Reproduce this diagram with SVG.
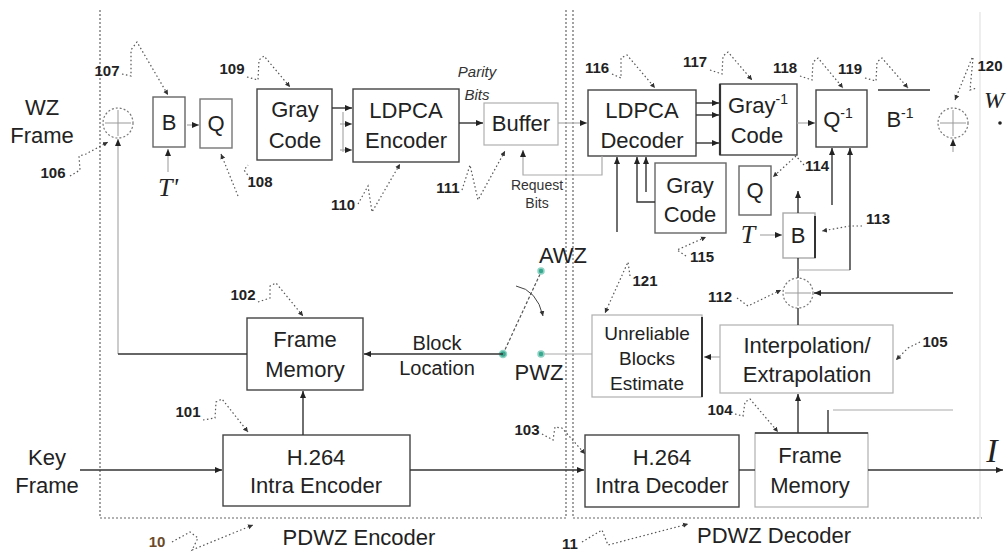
<svg xmlns="http://www.w3.org/2000/svg" width="1008" height="554" viewBox="0 0 1008 554">
<defs>
<marker id="ar" markerWidth="8" markerHeight="8" refX="7" refY="4" orient="auto" markerUnits="userSpaceOnUse"><path d="M0,1 L7,4 L0,7 z" fill="#222"/></marker>
<marker id="la" markerWidth="6" markerHeight="6" refX="5" refY="3" orient="auto" markerUnits="userSpaceOnUse"><path d="M0,0.5 L5,3 L0,5.5 z" fill="#333"/></marker>
<style>
.t{font-family:"Liberation Sans",Arial,sans-serif;font-size:22px;fill:#222;text-anchor:middle}
.s{font-size:19px}
.n{font-family:"Liberation Sans",Arial,sans-serif;font-size:15px;font-weight:bold;fill:#222;text-anchor:middle}
.it{font-family:"Liberation Sans",Arial,sans-serif;font-style:italic;font-size:15px;fill:#333;text-anchor:middle}
.sm{font-family:"Liberation Sans",Arial,sans-serif;font-size:14px;fill:#333;text-anchor:middle}
.v{font-family:"Liberation Serif","Times New Roman",serif;font-style:italic;fill:#222;text-anchor:middle}
.bx{fill:none;stroke:#444;stroke-width:1.4}
.bxl{fill:none;stroke:#b0b0b0;stroke-width:1.2}
.ln{fill:none;stroke:#333;stroke-width:1.4}
.lf{fill:none;stroke:#aaa;stroke-width:1.2}
.ld{fill:none;stroke:#555;stroke-width:1.2;stroke-dasharray:1.5,2.5}
.rg{fill:none;stroke:#666;stroke-width:1.2;stroke-dasharray:2,2}
.ad{fill:none;stroke:#777;stroke-width:1.2;stroke-dasharray:2,2}
.pl{stroke:#999;stroke-width:1}
.sw{fill:#3aa88e;stroke:#8fd3c4;stroke-width:1.5}
</style>
</defs>
<rect width="1008" height="554" fill="#fff"/>

<g id="regions">
<path class="rg" d="M100,10 L100,518 L566,518 L566,10"/>
<path class="rg" d="M573,10 L573,518 L982,518"/>
<path d="M980,12 L980,518" stroke="#e2e2e2" stroke-width="1.2" fill="none"/>
<text class="t" x="359" y="545">PDWZ Encoder</text>
<text class="t" x="774" y="543">PDWZ Decoder</text>
<text class="n" x="157" y="547" style="fill:#6a4a2a">10</text>
<text class="n" x="570" y="549">11</text>
</g>

<g id="labels">
<text class="t" x="42" y="115">WZ</text>
<text class="t" x="42" y="143">Frame</text>
<text class="t" x="47" y="465">Key</text>
<text class="t" x="47" y="493">Frame</text>
<text class="v" x="168" y="196" font-size="26">T'</text>
<text class="v" x="748" y="243" font-size="26">T</text>
<text class="v" x="994" y="108" font-size="24">W</text>
<text class="v" x="992" y="462" font-size="34">I</text>
<text class="it" x="477" y="77">Parity</text>
<text class="it" x="477" y="100">Bits</text>
<text class="sm" x="537" y="190">Request</text>
<text class="sm" x="537" y="208">Bits</text>
<text class="t" x="437" y="350" style="font-size:20px">Block</text>
<text class="t" x="437" y="375" style="font-size:20px">Location</text>
<text class="t" x="563" y="263">AWZ</text>
<text class="t" x="539" y="380">PWZ</text>
</g>

<g id="n106"><circle class="ad" cx="118" cy="123" r="15"/><path class="pl" d="M105,123 H131 M118,110 V136"/></g>
<g id="n107"><rect class="bx" x="153" y="97" width="32" height="50" style="stroke:#666"/><text class="t" x="169" y="130">B</text></g>
<g id="n108"><rect class="bx" x="200" y="99" width="32" height="49" style="stroke:#777"/><text class="t" x="216" y="131">Q</text></g>
<g id="n109"><rect class="bx" x="257" y="89" width="75" height="71"/><text class="t" x="295" y="117">Gray</text><text class="t" x="295" y="148">Code</text></g>
<g id="n110"><rect class="bx" x="353" y="89" width="106" height="73"/><text class="t" x="406" y="118">LDPCA</text><text class="t" x="406" y="148">Encoder</text></g>
<g id="n111"><rect class="bxl" x="484" y="103" width="74" height="42"/><text class="t" x="521" y="131">Buffer</text></g>
<g id="n116"><rect class="bx" x="588" y="90" width="108" height="66"/><text class="t" x="642" y="118">LDPCA</text><text class="t" x="642" y="148">Decoder</text></g>
<g id="n117"><rect class="bx" x="720" y="84" width="77" height="71"/><path d="M720,84 V155" stroke="#333" stroke-width="2.2"/><text class="t" x="758" y="113">Gray<tspan font-size="14" dy="-9">-1</tspan></text><text class="t" x="757" y="143">Code</text></g>
<g id="n118"><rect class="bx" x="816" y="90" width="51" height="57"/><text class="t" x="838" y="127">Q<tspan font-size="14" dy="-9">-1</tspan></text></g>
<g id="n119"><path class="ln" d="M878,90 H930"/><text class="t" x="900" y="127">B<tspan font-size="14" dy="-9">-1</tspan></text></g>
<g id="n120"><circle class="ad" cx="953" cy="123" r="15"/><path class="pl" d="M940,123 H966 M953,110 V136"/></g>
<g id="n114"><rect class="bx" x="739" y="166" width="32" height="49" style="stroke:#666"/><text class="t" x="755" y="198">Q</text></g>
<g id="n115"><rect class="bx" x="655" y="163" width="71" height="70" style="stroke:#666"/><text class="t" x="690" y="193">Gray</text><text class="t" x="690" y="222">Code</text></g>
<g id="n113"><rect class="bx" x="783" y="213" width="32" height="45" style="stroke:#aaa"/><path d="M815,216 V258" stroke="#333" stroke-width="2"/><text class="t" x="798" y="243">B</text></g>
<g id="n112"><circle class="ad" cx="798" cy="293" r="15"/><path class="pl" d="M785,293 H811 M798,280 V306"/></g>
<g id="n105"><rect class="bxl" x="720" y="325" width="173" height="68"/><text class="t" x="807" y="353">Interpolation/</text><text class="t" x="807" y="382">Extrapolation</text></g>
<g id="n121"><rect class="bxl" x="592" y="315" width="110" height="82"/><path d="M702,317 V397" stroke="#333" stroke-width="2"/><text class="t s" x="647" y="340">Unreliable</text><text class="t s" x="647" y="365">Blocks</text><text class="t s" x="647" y="390">Estimate</text></g>
<g id="n102"><rect class="bx" x="247" y="318" width="116" height="72"/><text class="t" x="305" y="347">Frame</text><text class="t" x="305" y="377">Memory</text></g>
<g id="n101"><rect class="bx" x="223" y="435" width="187" height="71"/><text class="t" x="316" y="465">H.264</text><text class="t" x="316" y="493">Intra Encoder</text></g>
<g id="n103"><rect class="bx" x="585" y="435" width="154" height="72"/><text class="t" x="662" y="465">H.264</text><text class="t" x="662" y="493">Intra Decoder</text></g>
<g id="n104"><rect class="bxl" x="755" y="433" width="113" height="74"/><path class="ln" d="M755,433 H868"/><text class="t" x="810" y="463">Frame</text><text class="t" x="810" y="493">Memory</text></g>
<g id="switch">
<path d="M503,354 L541,272" stroke="#555" stroke-width="1.2" stroke-dasharray="3,2" fill="none"/>
<path d="M516,286 Q537,290 543,316" fill="none" stroke="#444" stroke-width="1" marker-end="url(#la)"/>
<circle class="sw" cx="503" cy="354" r="3.5"/>
<circle class="sw" cx="541" cy="354" r="3"/>
<circle class="sw" cx="541" cy="271" r="3"/>
</g>

<g id="connectors">
<path class="ln" d="M332,108 H352" marker-end="url(#ar)"/>
<path class="lf" d="M343,112 V152"/>
<path class="lf" d="M340,124 H352" marker-end="url(#ar)"/>
<path class="lf" d="M340,150 H352" marker-end="url(#ar)"/>
<path class="ln" d="M459,123 H483" marker-end="url(#ar)"/>
<path class="lf" d="M558,123 H587" marker-end="url(#ar)"/>
<path class="lf" d="M602,156 V175 H523 V150" marker-end="url(#ar)"/>
<path class="lf" d="M187,125 H199" marker-end="url(#ar)"/>
<path class="lf" d="M168,172 V149" marker-end="url(#ar)"/>
<path class="lf" d="M118,354 V139" marker-end="url(#ar)"/>
<path class="ln" d="M247,354 H118"/>
<path class="ln" d="M696,103 H719" marker-end="url(#ar)"/>
<path class="ln" d="M696,115 H719" marker-end="url(#ar)"/>
<path class="ln" d="M696,143 H719" marker-end="url(#ar)"/>
<path class="lf" d="M797,123 H815" marker-end="url(#ar)"/>
<path class="ln" d="M617,232 V157" marker-end="url(#ar)"/>
<path class="ln" d="M655,202 H637 V157" marker-end="url(#ar)"/>
<path class="ln" d="M646,192 V157" marker-end="url(#ar)"/>
<path class="ln" d="M798,213 V191" marker-end="url(#ar)"/>
<path class="lf" d="M760,235 H782" marker-end="url(#ar)"/>
<path class="ln" d="M798,278 V258"/>
<path class="lf" d="M798,270 H850"/>
<path class="ln" d="M850,270 V148" marker-end="url(#ar)"/>
<path class="ln" d="M832,205 V148" marker-end="url(#ar)"/>
<path class="ln" d="M953,293 H814" marker-end="url(#ar)"/>
<path class="ln" d="M798,308 V325"/>
<path class="lf" d="M720,357 H704" marker-end="url(#ar)"/>
<path class="ln" d="M798,433 V394" marker-end="url(#ar)"/>
<path class="ln" d="M828,433 V410"/>
<path class="lf" d="M833,410 H953"/>
<path class="ln" d="M739,470 H755"/>
<path class="ln" d="M868,470 H1003" marker-end="url(#ar)"/>
<path class="ln" d="M410,470 H584" marker-end="url(#ar)"/>
<path class="ln" d="M80,470 H222" marker-end="url(#ar)"/>
<path class="ln" d="M303,435 V391" marker-end="url(#ar)"/>
<path class="ln" d="M503,354 H364" marker-end="url(#ar)"/>
<path class="lf" d="M544,354 H592"/>
<path class="lf" d="M953,152 V139" marker-end="url(#ar)"/>
<circle cx="1000" cy="123" r="1.8" fill="#222"/>
</g>

<g id="refs">
<text class="n" x="107" y="76">107</text>
<path class="ld" d="M122,74 L131,76 L131,50 L137,42 L168,95" marker-end="url(#la)"/>
<text class="n" x="232" y="74">109</text>
<path class="ld" d="M247,77 L258,80 L259,60 L264,56 L290,87" marker-end="url(#la)"/>
<text class="n" x="53" y="178">106</text>
<path class="ld" d="M70,176 L80,170 L79,156 L86,154 L108,142" marker-end="url(#la)"/>
<text class="n" x="260" y="187">108</text>
<path class="ld" d="M250,178 L244,170 L248,165 M238,196 L221,154" marker-end="url(#la)"/>
<text class="n" x="343" y="210">110</text>
<path class="ld" d="M358,204 L368,186 L372,212 L400,164" marker-end="url(#la)"/>
<text class="n" x="448" y="193">111</text>
<path class="ld" d="M462,190 L470,165 L478,200 L505,151" marker-end="url(#la)"/>
<text class="n" x="597" y="73">116</text>
<path class="ld" d="M612,74 L621,78 L621,58 L627,55 L655,88" marker-end="url(#la)"/>
<text class="n" x="695" y="67">117</text>
<path class="ld" d="M710,70 L722,74 L723,56 L728,52 L752,80" marker-end="url(#la)"/>
<text class="n" x="785" y="73">118</text>
<path class="ld" d="M800,76 L812,80 L813,62 L818,58 L843,88" marker-end="url(#la)"/>
<text class="n" x="850" y="74">119</text>
<path class="ld" d="M865,78 L876,81 L877,62 L882,58 L908,88" marker-end="url(#la)"/>
<text class="n" x="990" y="71">120</text>
<path class="ld" d="M973,58 L970,90 L977,88 M972,58 L955,100" marker-end="url(#la)"/>
<text class="n" x="817" y="171">114</text>
<path class="ld" d="M804,165 L796,156 L773,177" marker-end="url(#la)"/>
<text class="n" x="878" y="224">113</text>
<path class="ld" d="M862,226 L850,226 L822,231" marker-end="url(#la)"/>
<text class="n" x="702" y="262">115</text>
<path class="ld" d="M686,256 L677,250 L706,237" marker-end="url(#la)"/>
<text class="n" x="645" y="286">121</text>
<path class="ld" d="M630,276 L628,262 L605,313" marker-end="url(#la)"/>
<text class="n" x="720" y="302">112</text>
<path class="ld" d="M737,298 L748,306 L781,290" marker-end="url(#la)"/>
<text class="n" x="935" y="347">105</text>
<path class="ld" d="M920,342 L908,348 L896,360" marker-end="url(#la)"/>
<text class="n" x="243" y="300">102</text>
<path class="ld" d="M258,302 L270,298 L270,286 L276,283 L303,316" marker-end="url(#la)"/>
<text class="n" x="188" y="417">101</text>
<path class="ld" d="M203,420 L215,418 L216,402 L222,399 L248,432" marker-end="url(#la)"/>
<text class="n" x="527" y="435">103</text>
<path class="ld" d="M542,434 L553,440 L555,427 L562,428 L585,454" marker-end="url(#la)"/>
<text class="n" x="720" y="415">104</text>
<path class="ld" d="M735,414 L743,416 L745,402 L750,399 L778,432" marker-end="url(#la)"/>
<path class="ld" d="M172,542 L190,532 L198,538 L192,550 L253,525" marker-end="url(#la)"/>
<path class="ld" d="M582,542 L602,530 L608,545 L688,524" marker-end="url(#la)"/>
</g>
</svg>
